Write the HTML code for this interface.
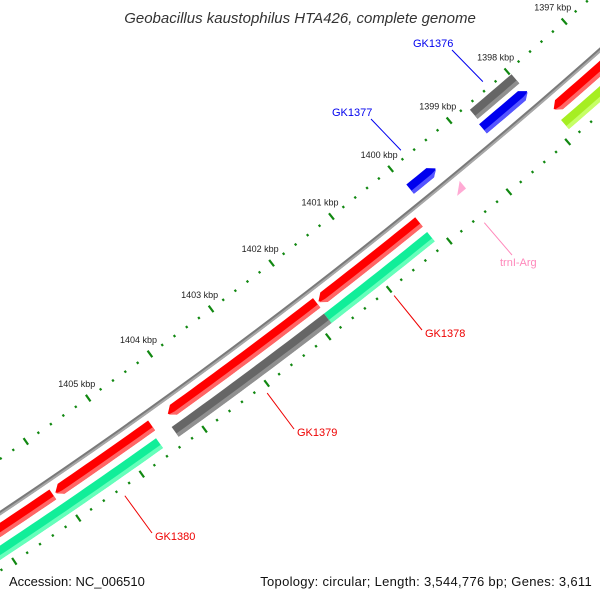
<!DOCTYPE html>
<html><head><meta charset="utf-8"><style>
html,body{margin:0;padding:0;background:#fff;width:600px;height:600px;overflow:hidden;}
svg{display:block;font-family:"Liberation Sans","DejaVu Sans",sans-serif;}
</style></head><body>
<svg id="map" width="600" height="600" viewBox="0 0 600 600" xmlns="http://www.w3.org/2000/svg">
<rect width="600" height="600" fill="#fff"/>
<text x="300" y="23" text-anchor="middle" font-size="15" font-style="italic" fill="#333">Geobacillus kaustophilus HTA426, complete genome</text>
<g id="ticks"></g><g id="feats"></g><g id="labels"></g>
<text x="9" y="586" font-size="13" fill="#111">Accession: NC_006510</text>
<text x="592" y="586" text-anchor="end" font-size="13" letter-spacing="0.3" fill="#111">Topology: circular; Length: 3,544,776 bp; Genes: 3,611</text>
</svg>
<script>
// data (kbp)
const featNames  = ['lime-orf','red-orf-top','GK1376-gray','GK1376','GK1377','trnI-Arg','GK1378','GK1378-b','GK1379','GK1379-b','GK1380','red-orf-left','GK1380-b'];
const featStart  = [1390.0, 1390.0, 1397.98, 1397.97, 1399.54, 1399.40, 1400.15, 1400.15, 1401.85, 1401.86, 1404.53, 1406.10, 1404.58];
const featEnd    = [1397.88,1397.86,1398.70, 1398.73, 1399.97, 1399.55, 1401.82, 1401.86, 1404.27, 1404.33, 1406.06, 1412.0, 1412.0];
const featRing   = [4, 3, 0, 1, 1, 3, 3, 4, 3, 4, 3, 3, 4];
const featArrow  = [0, 1, 0, -1, -1, 1, 1, 0, 1, 0, 1, 1, 0];
const featColor  = ['#a6ee22','#ff0000','#666666','#0000ee','#0000ee','#ffaad4','#ff0000','#11ee99','#ff0000','#666666','#ff0000','#ff0000','#11ee99'];
const featLight  = ['#c6ff66','#ff6666','#909090','#5555ff','#5555ff','#ffccee','#ff6666','#66ffbb','#ff6666','#909090','#ff6666','#ff6666','#66ffbb'];
const tickStartKbp = 1390, tickEndKbp = 1412, tickStep = 0.2;
const labelKbp = [1397,1398,1399,1400,1401,1402,1403,1404,1405];
const calloutNames = ['GK1376','GK1377','trnI-Arg','GK1378','GK1379','GK1380'];
const calloutKbp   = [1398.33, 1399.74, 1399.5, 1401.0, 1403.07, 1405.34];
const calloutColor = ['#0000ee','#0000ee','#ff88bb','#ee0000','#ee0000','#ee0000'];

// geometry
const CX=-3067, CY=-4080;
const ringR=[5489,5506,5523,5537,5556];
const W=12;
function ang(k){return (48.48+(k-1397)*0.794)*Math.PI/180;}
function pt(k,r){const a=ang(k);return [CX+r*Math.cos(a),CY+r*Math.sin(a)];}
const NS='http://www.w3.org/2000/svg';
function mk(tag,attrs,parent){const e=document.createElementNS(NS,tag);for(const k in attrs)e.setAttribute(k,attrs[k]);parent.appendChild(e);return e;}
function arcPts(k1,k2,r,n){const p=[];for(let i=0;i<=n;i++){p.push(pt(k1+(k2-k1)*i/n,r));}return p;}
function poly(p){return p.map(q=>q[0].toFixed(2)+','+q[1].toFixed(2)).join(' ');}

const tg=document.getElementById('ticks');
{
 const b=arcPts(1388,1414,ringR[2]-2,60).concat(arcPts(1414,1388,ringR[2]+2,60));
 const bb=mk('polygon',{points:poly(b),fill:'#7a7a7a'},tg);
 
 
 const b2=arcPts(1388,1414,ringR[2],60).concat(arcPts(1414,1388,ringR[2]+2,60));
 const bl=mk('polygon',{points:poly(b2),fill:'#a8a8a8'},tg);
 
 
}
const nT=Math.round((tickEndKbp-tickStartKbp)/tickStep);
for(let i=0;i<=nT;i++){
 const k=tickStartKbp+i*tickStep;
 const major=Math.abs(k-Math.round(k))<1e-6;
 [5478,5571].forEach((r,j)=>{
  const h=major?4:1.2;
  const a=pt(k,r-h),b=pt(k,r+h);
  const t=mk('line',{x1:a[0],y1:a[1],x2:b[0],y2:b[1],stroke:'#118811','stroke-width':2.2},tg);
  
  
 });
}
const lg=document.getElementById('labels');
labelKbp.forEach(k=>{
 const p=pt(k,5478);
 const t=mk('text',{x:p[0]-30,y:p[1]-11,'font-size':9,fill:'#222'},lg);
 t.textContent=k+' kbp';
 
 
});
const fg=document.getElementById('feats');
const AL=0.09;
featNames.forEach((nm,i)=>{
 const s=featStart[i],e=featEnd[i],r=ringR[featRing[i]],dir=featArrow[i];
 let lo=s,hi=e;
 const n=Math.max(4,Math.ceil((hi-lo)*8));
 let pts,lt;
 if(dir===0){
  pts=arcPts(lo,hi,r-W/2,n).concat(arcPts(hi,lo,r+W/2,n));
  lt=arcPts(lo,hi,r+W/2-4,n).concat(arcPts(hi,lo,r+W/2,n));
 }else if(dir===1){
  const bh=Math.max(lo,hi-AL);
  pts=arcPts(lo,bh,r-W/2,n).concat([pt(hi,r)]).concat(arcPts(bh,lo,r+W/2,n));
  lt=arcPts(lo,bh,r+W/2-4,n).concat([pt(hi,r+1)]).concat(arcPts(bh,lo,r+W/2,n));
 }else{
  const bl=Math.min(hi,lo+AL);
  pts=[pt(lo,r)].concat(arcPts(bl,hi,r-W/2,n)).concat(arcPts(hi,bl,r+W/2,n));
  lt=[pt(lo,r+1)].concat(arcPts(bl,hi,r+W/2-4,n)).concat(arcPts(hi,bl,r+W/2,n));
 }
 if(nm==='trnI-Arg'){
  pts=[pt(lo,r-W/2),pt(hi,r+W/2-2),pt(lo,r+W/2-2)];lt=null;
 }
 const g=mk('g',{},fg);
 
 
 mk('polygon',{points:poly(pts),fill:featColor[i]},g);
 if(lt)mk('polygon',{points:poly(lt),fill:featLight[i]},g);
});
const labelPos=[[413,47],[332,116],[500,266],[425,337],[297,436],[155,540]];
calloutNames.forEach((nm,i)=>{
 const kb=calloutKbp[i];
 const inner=i>=2;
 const p=inner?pt(kb,5579):pt(kb,5470);
 const lp=labelPos[i];
 let lx=inner?lp[0]-3:lp[0]+39, ly=inner?lp[1]-7:lp[1]+3;
 if(nm==='trnI-Arg'){lx=lp[0]+12;ly=lp[1]-11;}
 const l=mk('line',{x1:p[0],y1:p[1],x2:lx,y2:ly,stroke:calloutColor[i],'stroke-width':1},lg);
 
 
 const t=mk('text',{x:lp[0],y:lp[1],'font-size':11,fill:calloutColor[i]},lg);
 t.textContent=nm;
 
 
});
</script>
</body></html>
